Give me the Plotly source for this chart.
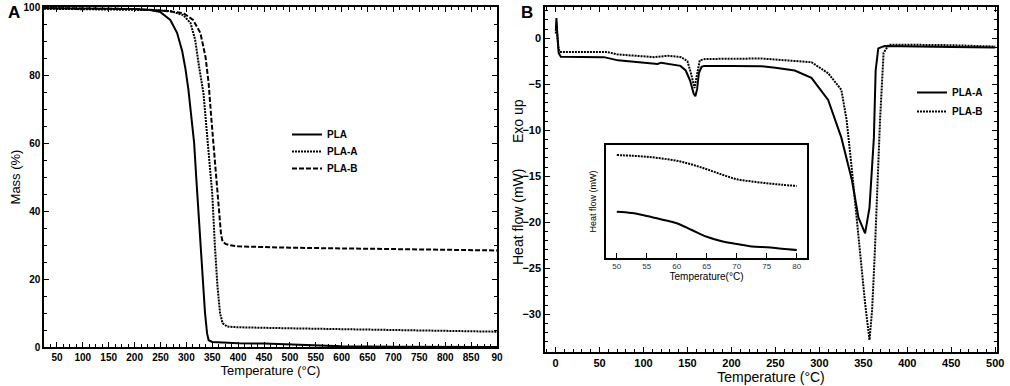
import plotly.graph_objects as go

# ---------------- Panel A: TGA ----------------
tga_pla_t = [25, 100, 200, 230, 250, 269, 282, 292, 298, 304, 310, 315, 319, 323, 327, 331, 336, 340, 343, 350, 400, 450, 500, 550, 600, 700, 800, 900]
tga_pla_m = [99.6, 99.6, 99.4, 99.1, 98.5, 96.2, 92.4, 87.0, 82.0, 75.6, 67.6, 60.0, 50.0, 40.0, 30.0, 20.0, 10.0, 4.0, 2.0, 1.5, 1.1, 1.0, 0.7, 0.4, 0.2, 0.05, 0.0, 0.0]

tga_a_t = [25, 100, 200, 230, 269, 294, 308, 317, 325, 333, 337, 343, 350, 355, 360, 365, 370, 379, 400, 500, 600, 700, 800, 900]
tga_a_m = [99.5, 99.4, 99.2, 99.1, 98.8, 97.6, 95.3, 90.3, 82.0, 74.7, 67.6, 58.0, 45.0, 30.0, 18.0, 10.0, 7.0, 6.0, 5.8, 5.5, 5.3, 5.0, 4.8, 4.5]

tga_b_t = [25, 100, 200, 250, 294, 313, 327, 337, 343, 348, 353, 356, 360, 364, 367, 370, 376, 385, 400, 500, 600, 700, 800, 900]
tga_b_m = [99.7, 99.6, 99.4, 99.0, 98.2, 96.2, 92.4, 85.3, 77.6, 67.6, 58.0, 52.0, 46.0, 38.0, 33.0, 31.0, 30.3, 29.9, 29.6, 29.2, 29.0, 28.8, 28.6, 28.4]

tga_xticks = [50, 100, 150, 200, 250, 300, 350, 400, 450, 500, 550, 600, 650, 700, 750, 800, 850, 900]
tga_xticktext = ["50", "100", "150", "200", "250", "300", "350", "400", "450", "500", "550", "600", "650", "700", "750", "800", "850", "90"]
tga_yticks = [0, 20, 40, 60, 80, 100]

# ---------------- Panel B: DSC ----------------
dsc_a_t = [0.3, 1.0, 2.0, 3.5, 6, 20, 40, 55, 71, 97, 116, 120, 135, 142, 148, 153, 157, 159, 161, 163, 166, 169, 200, 234, 250, 272, 291, 310, 325, 337, 344.5, 352, 357, 362, 364, 367, 374, 400, 450, 500]
dsc_a_h = [0.8, 2.2, 0.5, -1.6, -2.0, -2.0, -2.0, -2.05, -2.4, -2.6, -2.8, -2.65, -2.9, -3.0, -3.5, -4.6, -6.0, -6.3, -5.5, -3.8, -3.1, -3.0, -3.0, -3.04, -3.2, -3.5, -4.3, -6.7, -10.8, -15.4, -19.5, -21.2, -18.4, -10.8, -3.5, -1.1, -0.85, -0.9, -0.95, -1.0]

dsc_b_t = [0.3, 1.0, 2.0, 3.5, 5, 59, 70, 100, 112, 128, 143, 150, 154, 158, 161, 164, 170, 234, 291, 310, 325, 331, 337, 344.5, 352, 357, 360, 363, 369, 373, 379, 400, 450, 500]
dsc_b_h = [0.5, 1.6, 0.2, -1.2, -1.5, -1.5, -1.75, -1.95, -2.05, -1.9, -2.05, -2.5, -3.8, -5.4, -4.0, -2.4, -2.25, -2.2, -2.6, -3.8, -5.6, -8.9, -14.3, -21.6, -28.8, -32.8, -29.5, -23.4, -8.9, -1.6, -0.7, -0.7, -0.75, -0.9]

dsc_xticks = [0, 50, 100, 150, 200, 250, 300, 350, 400, 450, 500]
dsc_yticks = [0, -5, -10, -15, -20, -25, -30]

# ---------------- Inset ----------------
ins_t = [50, 52.5, 55, 57.5, 60, 62.5, 65, 67.5, 70, 72.5, 75, 77.5, 80]
ins_a = [-2.034, -2.044, -2.068, -2.096, -2.126, -2.180, -2.234, -2.270, -2.292, -2.312, -2.318, -2.330, -2.340]
ins_b = [-1.580, -1.586, -1.594, -1.608, -1.626, -1.656, -1.694, -1.736, -1.774, -1.792, -1.806, -1.818, -1.828]
ins_xticks = [50, 55, 60, 65, 70, 75, 80]

FONT = "Liberation Sans, Arial, sans-serif"
BOLD = dict(family=FONT, size=10, color="black", weight="bold")
BOLD11 = dict(family=FONT, size=11, color="black", weight="bold")
DOT = "2px,1px"
DASH = "5px,2px"

fig = go.Figure()

fig.add_trace(go.Scatter(x=tga_pla_t, y=tga_pla_m, mode="lines", name="PLA",
                         line=dict(color="black", width=2), xaxis="x", yaxis="y", legend="legend"))
fig.add_trace(go.Scatter(x=tga_a_t, y=tga_a_m, mode="lines", name="PLA-A",
                         line=dict(color="black", width=2, dash=DOT), xaxis="x", yaxis="y", legend="legend3"))
fig.add_trace(go.Scatter(x=tga_b_t, y=tga_b_m, mode="lines", name="PLA-B",
                         line=dict(color="black", width=2, dash=DASH), xaxis="x", yaxis="y", legend="legend4"))

fig.add_trace(go.Scatter(x=dsc_a_t, y=dsc_a_h, mode="lines", name="PLA-A",
                         line=dict(color="black", width=2), xaxis="x2", yaxis="y2", legend="legend2"))
fig.add_trace(go.Scatter(x=dsc_b_t, y=dsc_b_h, mode="lines", name="PLA-B",
                         line=dict(color="black", width=2, dash=DOT), xaxis="x2", yaxis="y2", legend="legend2"))

fig.add_trace(go.Scatter(x=ins_t, y=ins_a, mode="lines", showlegend=False,
                         line=dict(color="black", width=2, shape="spline"), xaxis="x3", yaxis="y3"))
fig.add_trace(go.Scatter(x=ins_t, y=ins_b, mode="lines", showlegend=False,
                         line=dict(color="black", width=2, dash=DOT, shape="spline"), xaxis="x3", yaxis="y3"))

W, H = 1010, 386
def px(x):
    return x / W
def py(y):
    return 1 - y / H

def axis_common(font):
    return dict(showline=True, linecolor="black", linewidth=1.5, mirror="ticks",
                ticks="inside", ticklen=5, tickcolor="black", tickwidth=1,
                showgrid=False, zeroline=False, tickfont=font, automargin=False)

def leg(x, ytop):
    return dict(x=px(x), y=py(ytop), xanchor="left", yanchor="top",
                font=BOLD, bgcolor="rgba(0,0,0,0)", tracegroupgap=0, itemwidth=30, borderwidth=0)

fig.update_layout(
    template="none",
    width=W, height=H,
    margin=dict(l=0, r=0, t=0, b=0, autoexpand=False),
    paper_bgcolor="white", plot_bgcolor="white",
    font=dict(family=FONT, color="black"),
    xaxis=dict(domain=[px(44), px(497)], range=[25, 900], anchor="y",
               tickmode="array", tickvals=tga_xticks, ticktext=tga_xticktext,
               minor=dict(dtick=12.5, ticks="inside", ticklen=3, tickcolor="black"),
               title=dict(text="Temperature (°C)", font=dict(size=13, family=FONT), standoff=3),
               **axis_common(BOLD)),
    yaxis=dict(domain=[py(347), py(7)], range=[0, 100], anchor="x",
               tickmode="array", tickvals=tga_yticks,
               minor=dict(dtick=5, ticks="inside", ticklen=3, tickcolor="black"),
               title=dict(text="Mass (%)", font=dict(size=13, family=FONT), standoff=0),
               **axis_common(BOLD)),
    xaxis2=dict(domain=[px(545), px(997)], range=[-12, 502], anchor="y2",
                tickmode="array", tickvals=dsc_xticks,
                minor=dict(dtick=10, ticks="inside", ticklen=3, tickcolor="black"),
                title=dict(text="Temperature (°C)", font=dict(size=14, family=FONT), standoff=2),
                **axis_common(BOLD11)),
    yaxis2=dict(domain=[py(352), py(7)], range=[-34.1, 3.4], anchor="x2",
                tickmode="array", tickvals=dsc_yticks,
                minor=dict(dtick=1, ticks="inside", ticklen=3, tickcolor="black"),
                **axis_common(BOLD11)),
    xaxis3=dict(domain=[px(606), px(807)], range=[48.2, 81.7], anchor="y3",
                showline=True, linecolor="black", linewidth=1.5, mirror=True, automargin=False,
                ticks="inside", ticklen=5, tickcolor="black", showgrid=False, zeroline=False,
                tickmode="array", tickvals=ins_xticks,
                tickfont=dict(family=FONT, size=8, color="#333"),
                title=dict(text="Temperature(°C)", font=dict(size=10, family=FONT), standoff=2)),
    yaxis3=dict(domain=[py(258), py(145)], range=[-2.404, -1.5], anchor="x3",
                showline=True, linecolor="black", linewidth=1.5, mirror=True, automargin=False,
                ticks="", showticklabels=False, showgrid=False, zeroline=False,
                title=dict(text="Heat flow (mW)", font=dict(size=9, family=FONT), standoff=6)),
    legend=leg(287, 120),
    legend3=leg(287, 137),
    legend4=leg(287, 154),
    legend2=leg(912, 78),
    showlegend=True,
    annotations=[
        dict(text="<b>A</b>", x=px(14), y=py(12), xref="paper", yref="paper",
             xanchor="center", yanchor="middle",
             showarrow=False, font=dict(size=17, family=FONT)),
        dict(text="<b>B</b>", x=px(527), y=py(12), xref="paper", yref="paper",
             xanchor="center", yanchor="middle",
             showarrow=False, font=dict(size=17, family=FONT)),
        dict(text="Exo up", x=px(518), y=py(121), xref="paper", yref="paper",
             xanchor="center", yanchor="middle",
             showarrow=False, textangle=-90, font=dict(size=14, family=FONT)),
        dict(text="Heat flow (mW)", x=px(518), y=py(217), xref="paper", yref="paper",
             xanchor="center", yanchor="middle",
             showarrow=False, textangle=-90, font=dict(size=14, family=FONT)),
    ],
)

# the page's default body margin would shift the figure by 8px; remove it
fig.write_html("out.html", config={"displayModeBar": False},
               post_script="document.body.style.margin='0px';")
